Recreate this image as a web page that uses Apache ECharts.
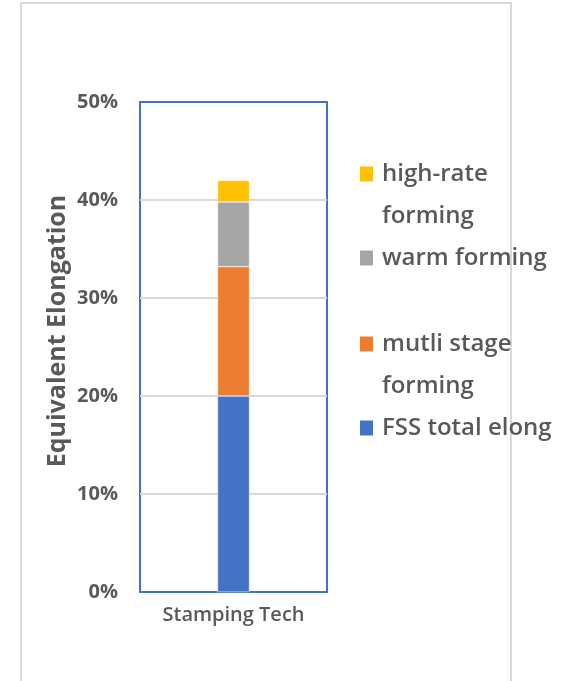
<!DOCTYPE html>
<html>
<head>
<meta charset="utf-8">
<style>
  html, body { margin: 0; padding: 0; background: #ffffff; }
  #chart { width: 569px; height: 681px; }
</style>
<script src="https://cdn.jsdelivr.net/npm/echarts@6/dist/echarts.min.js"></script>
</head>
<body>
<div id="chart"></div>
<script>
// Stacked contributions to equivalent elongation (fraction of 1)
const categories = ['Stamping Tech'];
const fssTotalElong = [0.20];
const multiStageForming = [0.132];
const warmForming = [0.066];
const highRateForming = [0.022];
const yTicks = [0, 0.1, 0.2, 0.3, 0.4, 0.5];

const FONT = '"Open Sans", Lato, sans-serif';
const TEXT = '#595959';

const seriesDefs = [
  { name: 'FSS total elong', data: fssTotalElong, color: '#4472C4' },
  { name: 'mutli stage forming', data: multiStageForming, color: '#ED7D31' },
  { name: 'warm forming', data: warmForming, color: '#A5A5A5' },
  { name: 'high-rate forming', data: highRateForming, color: '#FFC000' }
];

// Wrapped labels: a leading blank line keeps the swatch beside the first text line
// (legend text is centred vertically on its swatch).
const legendLabel = {
  'high-rate forming': '\u00a0\nhigh-rate\nforming',
  'warm forming': 'warm forming',
  'mutli stage forming': '\u00a0\nmutli stage\nforming',
  'FSS total elong': 'FSS total elong'
};

// one legend block per entry so each sits on its own row
const LINE_H = 42;
const legendRows = [
  { name: 'high-rate forming', top: 111 },
  { name: 'warm forming', top: 237 },
  { name: 'mutli stage forming', top: 281 },
  { name: 'FSS total elong', top: 407 }
];
const legends = legendRows.map(r => ({
  data: [r.name],
  left: 358,
  top: r.top,
  padding: 0,
  orient: 'vertical',
  itemWidth: 15,
  itemHeight: 17,
  icon: 'rect',
  selectedMode: false,
  formatter: n => legendLabel[n],
  textStyle: {
    fontFamily: FONT, fontSize: 24, fontWeight: 600, color: TEXT,
    lineHeight: LINE_H,
    padding: [0, 0, 0, 3]
  }
}));

const chart = echarts.init(document.getElementById('chart'), null, { renderer: 'canvas' });
chart.setOption({
  backgroundColor: '#ffffff',
  animation: false,
  legend: legends,
  grid: {
    left: 140, right: 242, top: 102, bottom: 89,
    show: true, borderColor: '#4472C4', borderWidth: 2, backgroundColor: 'transparent'
  },
  xAxis: {
    type: 'category',
    data: categories,
    axisLine: { show: false },
    axisTick: { show: false },
    axisLabel: { fontFamily: FONT, fontSize: 20, fontWeight: 600, color: TEXT, margin: 13 }
  },
  yAxis: {
    type: 'value',
    min: yTicks[0],
    max: yTicks[yTicks.length - 1],
    interval: 0.1,
    axisLine: { show: false },
    axisTick: { show: false },
    splitLine: { showMinLine: false, showMaxLine: false, lineStyle: { color: '#d9d9d9', width: 2 } },
    axisLabel: {
      fontFamily: FONT, fontSize: 20, fontWeight: 700, color: TEXT, margin: 22,
      formatter: v => Math.round(v * 100) + '%'
    }
  },
  series: seriesDefs.map(s => ({
    name: s.name,
    type: 'bar',
    stack: 'total',
    data: s.data,
    barWidth: 32,
    itemStyle: { color: s.color, borderColor: '#ffffff', borderWidth: 0.5 }
  })),
  graphic: [
    {
      type: 'rect',
      shape: { x: 21, y: 3, width: 490, height: 700 },
      style: { fill: 'none', stroke: '#d9d9d9', lineWidth: 2 },
      silent: true
    },
    {
      type: 'text',
      x: 58,
      y: 331,
      rotation: Math.PI / 2,
      style: {
        text: 'Equivalent Elongation',
        fontFamily: FONT, fontSize: 25, fontWeight: 700, fill: TEXT,
        align: 'center', verticalAlign: 'middle'
      }
    }
  ]
});
</script>
</body>
</html>
